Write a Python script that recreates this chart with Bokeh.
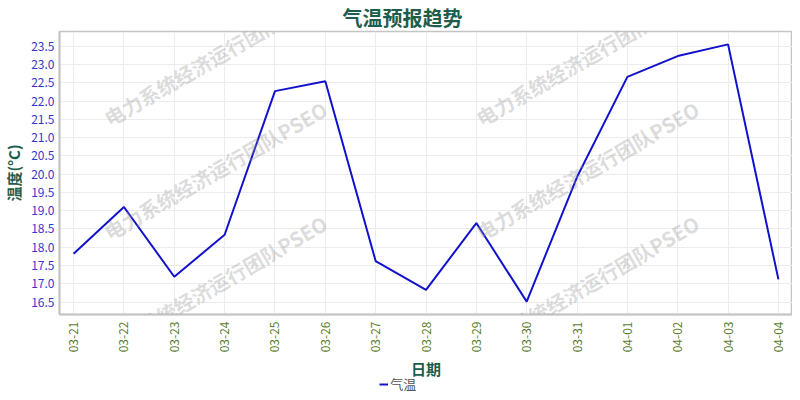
import math
from bokeh.plotting import figure
from bokeh.layouts import column
from bokeh.models import (Range1d, FixedTicker, Legend, LegendItem, Label,
                          ColumnDataSource, PrintfTickFormatter, Title)
from bokeh.embed import file_html
from bokeh.resources import INLINE

# ---- data ----
dates = ["03-21", "03-22", "03-23", "03-24", "03-25", "03-26", "03-27", "03-28",
         "03-29", "03-30", "03-31", "04-01", "04-02", "04-03", "04-04"]
temps = [17.82, 19.10, 17.19, 18.34, 22.27, 22.54, 17.62, 16.83,
         18.66, 16.51, 19.92, 22.66, 23.23, 23.55, 17.12]
y_ticks = [16.5, 17.0, 17.5, 18.0, 18.5, 19.0, 19.5, 20.0,
           20.5, 21.0, 21.5, 22.0, 22.5, 23.0, 23.5]
series_name = "气温"
title_text = "气温预报趋势"
x_label = "日期"
y_label = "温度(°C)"
watermark = "电力系统经济运行团队PSEO"

idx = list(range(len(dates)))
source = ColumnDataSource(data=dict(x=idx, t=temps))

xpad = (len(dates) - 1) * 0.02
lo, hi = min(temps), max(temps)
ypad = (hi - lo) * 0.05

CJK = "Noto Sans CJK SC"
TEAL = "#1e5c4c"
LINE_COLOR = "#1212cc"

p = figure(frame_width=733, frame_height=283, output_backend="svg",
           toolbar_location=None,
           x_range=Range1d(-xpad, len(dates) - 1 + xpad),
           y_range=Range1d(lo - ypad, hi + ypad),
           min_border_left=49, min_border_right=0, min_border_top=0,
           min_border_bottom=0, background_fill_color="white",
           border_fill_color="white")

p.title.text = title_text
p.title.text_font = CJK
p.title.text_font_size = "20px"
p.title.text_font_style = "bold"
p.title.text_color = TEAL
p.title.align = "left"
p.title.offset = 283
p.title.standoff = 0

p.outline_line_color = "#c4c4c4"
p.outline_line_width = 1.5

p.xgrid.grid_line_color = "#ececec"
p.ygrid.grid_line_color = "#ececec"

p.xaxis.ticker = FixedTicker(ticks=idx)
p.xaxis.major_label_overrides = {i: d for i, d in enumerate(dates)}
p.xaxis.major_label_orientation = math.pi / 2
p.yaxis.ticker = FixedTicker(ticks=y_ticks)
p.yaxis.formatter = PrintfTickFormatter(format="%.1f")

for ax in (p.xaxis[0], p.yaxis[0]):
    ax.axis_line_color = "#c4c4c4"
    ax.axis_line_width = 2
    ax.major_tick_in = 0
    ax.major_tick_out = 0
    ax.minor_tick_line_color = None
    ax.major_label_text_font = CJK
    ax.major_label_text_font_size = "12px"
    ax.axis_label_text_font = CJK
    ax.axis_label_text_font_size = "15px"
    ax.axis_label_text_font_style = "bold"
    ax.axis_label_text_color = TEAL

p.xaxis.major_label_text_color = "#5a7d2e"
p.yaxis.major_label_text_color = "#3636cc"
p.xaxis.major_label_standoff = 7
p.yaxis.major_label_standoff = 5
p.yaxis.axis_label = y_label
p.yaxis.axis_label_standoff = 4

r = p.line("x", "t", source=source, line_color=LINE_COLOR, line_width=2)

# watermark tiling (canvas pixels), drawn inside the plot frame
wm_cols = [215, 587]
wm_rows = [56, 170, 284]
for cx in wm_cols:
    for cy in wm_rows:
        p.add_layout(Label(x=cx, y=cy, x_units="canvas", y_units="canvas",
                           text=watermark, angle=30, angle_units="deg",
                           text_align="center", text_baseline="middle",
                           text_font=CJK, text_font_size="20px",
                           text_font_style="bold", text_color="#9a9a9a",
                           text_alpha=0.35, level="overlay"))

# strip below the chart: x-axis title and legend
lf = figure(frame_width=733, height=38, output_backend="svg",
            toolbar_location=None, x_axis_location=None, y_axis_location=None,
            min_border_left=49, min_border_right=0, min_border_top=0,
            min_border_bottom=0, outline_line_color=None,
            x_range=Range1d(0, 1), y_range=Range1d(hi + 1, hi + 2),
            background_fill_color="white", border_fill_color="white")
lf.grid.visible = False
lf.add_layout(Title(text=x_label, align="center", text_font=CJK,
                    text_font_size="15px", text_font_style="bold",
                    text_color=TEAL, standoff=0), "above")
kr = lf.line("x", "t", source=source, line_color=LINE_COLOR, line_width=2)
legend = Legend(items=[LegendItem(label=series_name, renderers=[kr])],
                orientation="horizontal", location=(363, 0),
                border_line_color=None, background_fill_alpha=0,
                label_text_font=CJK, label_text_font_size="13px",
                label_text_color="#555555", glyph_width=9, glyph_height=12,
                label_standoff=2, padding=0, margin=0, spacing=0)
lf.add_layout(legend, "center")

layout = column(p, lf, spacing=0)
open("out.html", "w").write(file_html(layout, INLINE))
